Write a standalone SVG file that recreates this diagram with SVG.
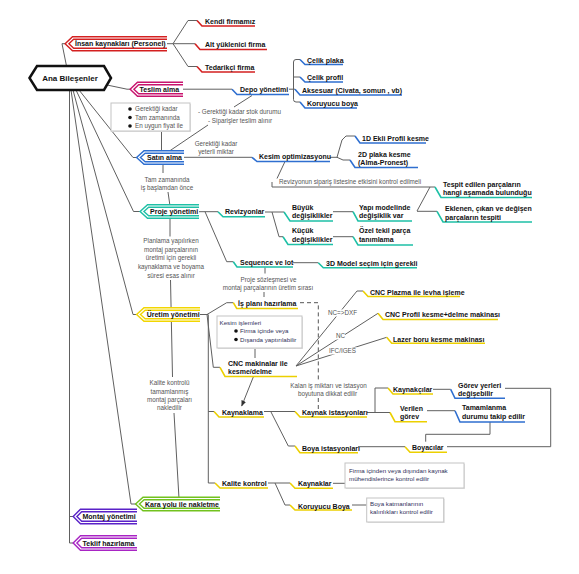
<svg xmlns="http://www.w3.org/2000/svg" width="579" height="574" viewBox="0 0 579 574">
<style>
.n{font-family:"Liberation Sans",Arial,sans-serif;font-weight:bold;font-size:7px;fill:#111}
.r{font-family:"Liberation Sans",Arial,sans-serif;font-weight:bold;font-size:8px;fill:#111}
.s{font-family:"Liberation Sans",Arial,sans-serif;font-size:6.3px;fill:#555}
.b{font-family:"Liberation Sans",Arial,sans-serif;font-size:6.2px;fill:#30305a}
.m{text-anchor:middle}
.c{fill:none;stroke:#606060;stroke-width:1}
.d{fill:none;stroke:#555;stroke-width:1;stroke-dasharray:4 3}
.u{fill:none;stroke-width:1.6}
.sh{fill:#fff;stroke-width:4}
.in{fill:none;stroke:#fff;stroke-width:1.2}
.box{fill:#fff;stroke:#c4c4c4;stroke-width:1}
.bs{fill:#e2e2e2}
.w{fill:#fff}
.red{stroke:#d42020}.blue{stroke:#2f6fd0}.teal{stroke:#1ec0a6}.yel{stroke:#ecd000}
</style>
<defs>
<marker id="ar" viewBox="0 0 10 10" refX="9" refY="5" markerWidth="6" markerHeight="6" orient="auto"><path d="M0,1 L10,5 L0,9 z" fill="#333"/></marker>
</defs>
<rect width="579" height="574" fill="#fff"/>

<g id="connectors">
<polyline class="c" points="66.5,66 62,43.7 67,43.7"/>
<polyline class="c" points="107,85 127,89.2 132,89.2"/>
<polyline class="c" points="69.5,90 69.5,543 75,543"/>
<polyline class="c" points="69.5,516.5 75,516.5"/>
<polyline class="c" points="79,90 133,157.5 138.5,157.5"/>
<polyline class="c" points="76,90 133.5,211.5 142,211.5"/>
<polyline class="c" points="73,90 133,314.5 138.5,314.5"/>
<polyline class="c" points="71,90 131,504 137.5,504"/>
<polyline class="c" points="167,43.7 173,43.7"/>
<polyline class="c" points="173,43.7 188,20.5 197,20.5"/>
<polyline class="c" points="173,43.7 195,43.7"/>
<polyline class="c" points="173,43.7 188,66.5 197,66.5"/>
<polyline class="c" points="183,89.2 232,89.2"/>
<polyline class="c" points="289,89.2 295,89.2"/>
<path class="c" d="M300,59.5 H296 Q293.5,59.5 293.5,62 V99.5 Q293.5,102 296,102 H300 M293.5,77 H300"/>
<polyline class="c" points="252,95.5 234,107"/>
<polyline class="c" points="208,125 168,152"/>
<polyline class="c" points="161.5,130.7 161.5,152"/>
<polyline class="c" points="184,157.3 252,157.3"/>
<polyline class="c" points="330,157.3 337,157.3"/>
<polyline class="c" points="337,157.3 342,140 346,136 355,136"/>
<polyline class="c" points="337,157.3 343,160 350,160"/>
<polyline class="c" points="285,161.5 277,178.5"/>
<polyline class="c" points="272,182 272,187 435,187"/>
<polyline class="c" points="430,187 417,211"/>
<polyline class="c" points="417,211.3 437,211.3"/>
<polyline class="c" points="163,163 163,173"/>
<polyline class="c" points="168,192 170,206"/>
<polyline class="c" points="170,217 170,236.5"/>
<polyline class="c" points="170.5,280 172.5,377"/>
<polyline class="c" points="174,413 179,498.5"/>
<polyline class="c" points="199,211.7 218,211.7"/>
<polyline class="c" points="205,211.7 226.7,261.7 233.3,261.7"/>
<polyline class="c" points="265,212 284,212"/>
<polyline class="c" points="272,212 279,236.7 283,236.7"/>
<polyline class="c" points="333,211.7 353,211.7"/>
<polyline class="c" points="333,236.7 353,236.7"/>
<polyline class="c" points="293,262.7 318.3,262.7"/>
<polyline class="c" points="265,267.5 265,273.5"/>
<polyline class="c" points="264,292 264,297"/>
<polyline class="c" points="200,314.5 208,314.5"/>
<polyline class="c" points="207,314.5 226.7,302.7 233.3,302.7"/>
<polyline class="c" points="207,314.5 213.3,367.3 220,367.3"/>
<polyline class="c" points="208.3,314.5 208.3,483 215,483"/>
<polyline class="c" points="208.3,411.5 214,411.5"/>
<polyline class="c" points="255,348.3 255,358"/>
<line class="c" x1="253.3" y1="377" x2="241.7" y2="406" marker-end="url(#ar)"/>
<polyline class="c" points="296,366 357,291 363,291"/>
<polyline class="c" points="296,366 378,313.3"/>
<polyline class="c" points="296,366 386.7,337.3"/>
<polyline class="d" points="300,302.7 318.3,302.7 318.3,380"/>
<polyline class="d" points="318.3,398 318.3,409"/>
<polyline class="c" points="264,411.5 295,411.5"/>
<polyline class="c" points="271,412 288.3,446 295,446"/>
<polyline class="c" points="367,412.5 390,412.5"/>
<polyline class="c" points="375,412.5 375,388 388,388"/>
<polyline class="c" points="433,389.3 450.7,389.3"/>
<polyline class="c" points="427,410.7 455,410.7"/>
<polyline class="c" points="505,388.3 550.7,388.3 550.7,446.7 447,446.7"/>
<polyline class="c" points="490,422 490,434.3 425.7,434.3 425.7,441.7"/>
<polyline class="c" points="358,446.7 405,446.7"/>
<polyline class="c" points="268,483 290,483"/>
<polyline class="c" points="275,483 285,505 290,505"/>
<polyline class="c" points="333,483.3 345,483.3"/>
<polyline class="c" points="352,505 366.7,505"/>
</g>

<g id="root">
<polygon points="29.5,78 37,66 104,66 111,78 104,90 37,90" fill="#fff" stroke="#111" stroke-width="2.5"/>
<text class="r m" x="70" y="81.3">Ana Bileşenler</text>
</g>

<g id="insan">
<path class="sh" stroke="#d42020" d="M167,38 H73 L67,43.7 L73,49.5 H167"/>
<path class="in" d="M167,38 H73 L67,43.7 L73,49.5 H167"/>
<text class="n" x="75" y="46.4">İnsan kaynakları (Personel)</text>
</g>
<g id="teslim">
<path class="sh" stroke="#c8146e" d="M183,83.5 H138 L132,89.2 L138,95 H183"/>
<path class="in" d="M183,83.5 H138 L132,89.2 L138,95 H183"/>
<text class="n" x="139.5" y="91.9">Teslim alma</text>
</g>
<g id="satin">
<path class="sh" stroke="#2f6fd0" d="M184,152 H144.5 L138.5,157.5 L144.5,163 H184"/>
<path class="in" d="M184,152 H144.5 L138.5,157.5 L144.5,163 H184"/>
<text class="n" x="147" y="160.2">Satın alma</text>
</g>
<g id="proje">
<path class="sh" stroke="#1ec0a6" d="M199,206 H148 L142,211.5 L148,217 H199"/>
<path class="in" d="M199,206 H148 L142,211.5 L148,217 H199"/>
<text class="n" x="150" y="214.2">Proje yönetimi</text>
</g>
<g id="uretim">
<path class="sh" stroke="#f2d600" d="M200,309 H144.5 L138.5,314.5 L144.5,320 H200"/>
<path class="in" d="M200,309 H144.5 L138.5,314.5 L144.5,320 H200"/>
<text class="n" x="146.7" y="317.2">Üretim yönetimi</text>
</g>
<g id="karayolu">
<path class="sh" stroke="#72c21e" d="M220,498.5 H143.5 L137.5,504 L143.5,509.5 H220"/>
<path class="in" d="M220,498.5 H143.5 L137.5,504 L143.5,509.5 H220"/>
<text class="n" x="145" y="506.7">Kara yolu ile nakletme</text>
</g>
<g id="montaj">
<path class="sh" stroke="#5a22c8" d="M137,510.5 H81 L75,516.5 L81,522.5 H137"/>
<path class="in" d="M137,510.5 H81 L75,516.5 L81,522.5 H137"/>
<text class="n" x="82.5" y="519.2">Montaj yönetimi</text>
</g>
<g id="teklif">
<path class="sh" stroke="#a824c4" d="M137,537 H81 L75,543 L81,549 H137"/>
<path class="in" d="M137,537 H81 L75,543 L81,549 H137"/>
<text class="n" x="82.5" y="545.7">Teklif hazırlama</text>
</g>

<g id="kendi"><polyline class="u red" points="197,20.5 202,26 255,26"/><text class="n" x="205" y="24">Kendi firmamız</text></g>
<g id="alt"><polyline class="u red" points="195,43.7 200,49.5 267,49.5"/><text class="n" x="205" y="47.3">Alt yüklenici firma</text></g>
<g id="tedarikci"><polyline class="u red" points="197,66.5 202,72 255,72"/><text class="n" x="205" y="70">Tedarikçi firma</text></g>

<g id="depo"><polyline class="u blue" points="232,89.2 237,94.5 289,94.5"/><text class="n" x="240" y="92.4">Depo yönetimi</text></g>
<g id="celikplaka"><polyline class="u blue" points="300,59.5 305,64.5 343,64.5"/><text class="n" x="307" y="62.5">Çelik plaka</text></g>
<g id="celikprofil"><polyline class="u blue" points="300,77 305,82 343,82"/><text class="n" x="307" y="80">Çelik profil</text></g>
<g id="aksesuar"><polyline class="u blue" points="295,89.2 300,95 402,95"/><text class="n" x="302" y="92.6">Aksesuar (Civata, somun , vb)</text></g>
<g id="koruyucuboya"><polyline class="u blue" points="300,102 305,108 357,108"/><text class="n" x="307" y="106">Koruyucu boya</text></g>

<g id="depo-notes">
<text class="s" x="198" y="114">- Gerektiği kadar stok durumu</text>
<text class="s" x="208" y="123">- Siparişler teslim alınır</text>
</g>
<g id="bullet-box">
<rect class="bs" x="112" y="104" width="79" height="28"/>
<rect class="box" x="111" y="103" width="79" height="28"/>
<circle cx="130" cy="109" r="1.8" fill="#111"/>
<circle cx="130" cy="117.5" r="1.8" fill="#111"/>
<circle cx="130" cy="126" r="1.8" fill="#111"/>
<text class="s" x="135" y="111">Gerektiği kadar</text>
<text class="s" x="135" y="119.5">Tam zamanında</text>
<text class="s" x="135" y="128">En uygun fiyat ile</text>
</g>
<g id="satin-note">
<text class="s m" x="216" y="145.5">Gerektiği kadar</text>
<text class="s m" x="216" y="154">yeterli miktar</text>
</g>
<g id="kesim"><polyline class="u blue" points="252,157.3 257,161.5 330,161.5"/><text class="n" x="259" y="159.3">Kesim optimizasyonu</text></g>
<g id="ekli1d"><polyline class="u blue" points="355,136 360,143 426,143"/><text class="n" x="362" y="141">1D Ekli Profil kesme</text></g>
<g id="plaka2d"><polyline class="u blue" points="350,160 355,167.5 418,167.5"/><text class="n" x="358" y="156.5">2D plaka kesme</text><text class="n" x="358" y="165">(Alma-Pronest)</text></g>
<g id="revizyon-note"><text class="s" x="279" y="184">Revizyonun sipariş listesine etkisini kontrol edilmeli</text></g>
<g id="tespit"><polyline class="u teal" points="435,187 441,197.5 532,197.5"/><text class="n" x="443" y="186.5">Tespit edilen parçaların</text><text class="n" x="443" y="195">hangi aşamada bulunduğu</text></g>
<g id="eklenen"><polyline class="u teal" points="437,211.3 443,222 532,222"/><text class="n" x="445" y="211">Eklenen, çıkan ve değişen</text><text class="n" x="445" y="219.5">parçaların tespiti</text></g>

<g id="tam-note">
<text class="s m" x="167" y="181.5">Tam zamanında</text>
<text class="s m" x="167" y="190">iş başlamdan önce</text>
</g>
<g id="revizyonlar"><polyline class="u teal" points="218,211.7 223,216.7 265,216.7"/><text class="n" x="225" y="214.3">Revizyonlar</text></g>
<g id="buyuk"><polyline class="u teal" points="284,212 290,221 333,221"/><text class="n" x="292" y="209.5">Büyük</text><text class="n" x="292" y="218">değişiklikler</text></g>
<g id="kucuk"><polyline class="u teal" points="283,236.7 288,244.5 333,244.5"/><text class="n" x="292" y="233">Küçük</text><text class="n" x="292" y="241.5">değişiklikler</text></g>
<g id="yapi"><polyline class="u teal" points="353,211.7 358,221 412,221"/><text class="n" x="359" y="209.5">Yapı modelinde</text><text class="n" x="359" y="218">değişiklik var</text></g>
<g id="ozel"><polyline class="u teal" points="353,236.7 358,245 413,245"/><text class="n" x="359" y="233">Özel tekil parça</text><text class="n" x="359" y="241.5">tanımlama</text></g>
<g id="sequence"><polyline class="u teal" points="233.3,261.7 237,267 293,267"/><text class="n" x="240" y="265">Sequence ve lot</text></g>
<g id="model3d"><polyline class="u teal" points="318.3,262.7 323.3,267.7 417,267.7"/><text class="n" x="326" y="265.5">3D Model seçim için gerekli</text></g>
<g id="planlama-note">
<text class="s m" x="171" y="243">Planlama yapılırken</text>
<text class="s m" x="171" y="251.5">montaj parçalarının</text>
<text class="s m" x="171" y="260">üretimi için gerekli</text>
<text class="s m" x="171" y="269">kaynaklama ve boyama</text>
<text class="s m" x="171" y="277.5">süresi esas alınır</text>
</g>
<g id="proje-note">
<text class="s m" x="268.5" y="281.5">Proje sözleşmesi ve</text>
<text class="s m" x="268" y="290">montaj parçalarının üretim sırası</text>
</g>

<g id="isplani"><polyline class="u yel" points="233.3,302.7 236.7,308.5 298,308.5"/><text class="n" x="238" y="306">İş planı hazırlama</text></g>
<g id="kesim-box">
<rect class="bs" x="218" y="317" width="85" height="32"/>
<rect class="box" x="217" y="316" width="85" height="32"/>
<text class="b" x="219.5" y="324.5">Kesim işlemleri</text>
<circle cx="236" cy="331" r="1.8" fill="#111"/>
<circle cx="236" cy="339.5" r="1.8" fill="#111"/>
<text class="b" x="240" y="333">Firma içinde veya</text>
<text class="b" x="240" y="341.7">Dışanda yaptırılabilir</text>
</g>
<g id="cnc"><polyline class="u yel" points="220,367.3 225,376.5 297,376.5"/><text class="n" x="228" y="365.5">CNC makinalar ile</text><text class="n" x="228" y="374">kesme/delme</text></g>
<g id="cnc-labels">
<rect class="w" x="327" y="309.5" width="30" height="7"/>
<rect class="w" x="335" y="332.5" width="10" height="7"/>
<rect class="w" x="328" y="347.5" width="29" height="7"/>
<text class="s" x="328" y="315">NC=&gt;DXF</text>
<text class="s" x="336" y="338">NC</text>
<text class="s" x="329" y="353">IFC/IGES</text>
</g>
<g id="cncplazma"><polyline class="u yel" points="363,291 368,296.5 460,296.5"/><text class="n" x="370" y="294.5">CNC Plazma ile levha işleme</text></g>
<g id="cncprofil"><polyline class="u yel" points="378,313.3 383,319.5 498,319.5"/><text class="n" x="385" y="317.3">CNC Profil kesme+delme makinası</text></g>
<g id="lazer"><polyline class="u yel" points="386.7,337.3 391.7,343.3 485,343.3"/><text class="n" x="393" y="341.5">Lazer boru kesme makinası</text></g>
<g id="kalan-note">
<text class="s m" x="328.5" y="387.5">Kalan iş miktarı ve istasyon</text>
<text class="s m" x="327.5" y="396">boyutuna dikkat edilir</text>
</g>
<g id="kaynaklama"><polyline class="u yel" points="214,411.5 219,417 264,417"/><text class="n" x="222" y="414.5">Kaynaklama</text></g>
<g id="kaynakist"><polyline class="u yel" points="295,411.5 300,417 367,417"/><text class="n" x="302" y="414.5">Kaynak istasyonları</text></g>
<g id="kaynakcilar"><polyline class="u yel" points="388,388 393,394 433,394"/><text class="n" x="393" y="391.5">Kaynakçılar</text></g>
<g id="verilen"><polyline class="u yel" points="390,412.5 395,421.7 427,421.7"/><text class="n" x="400" y="410.5">Verilen</text><text class="n" x="400" y="419">görev</text></g>
<g id="gorevyerleri"><polyline class="u blue" points="450.7,389.3 455,398.3 505,398.3"/><text class="n" x="458" y="387.5">Görev yerleri</text><text class="n" x="458" y="396">değişebilir</text></g>
<g id="tamamlanma"><polyline class="u blue" points="455,410.7 460,422 525,422"/><text class="n" x="462" y="410">Tamamlanma</text><text class="n" x="462" y="419">durumu takip edilir</text></g>
<g id="boyaist"><polyline class="u yel" points="295,446 300,452.7 358,452.7"/><text class="n" x="302" y="450.5">Boya istasyonları</text></g>
<g id="boyacilar"><polyline class="u yel" points="405,446.7 410,452.3 447,452.3"/><text class="n" x="412" y="450">Boyacılar</text></g>
<g id="kalite-note">
<text class="s m" x="169.5" y="385">Kalite kontrolü</text>
<text class="s m" x="169.5" y="393.5">tamamlanmış</text>
<text class="s m" x="169.5" y="402">montaj parçaları</text>
<text class="s m" x="169.5" y="410">nakledilir</text>
</g>
<g id="kalite"><polyline class="u yel" points="215,483 220,488 268,488"/><text class="n" x="222" y="486">Kalite kontrol</text></g>
<g id="kaynaklar"><polyline class="u yel" points="290,483 295,488.3 333,488.3"/><text class="n" x="298" y="486">Kaynaklar</text></g>
<g id="koruyucuboya2"><polyline class="u yel" points="290,505 295,510 352,510"/><text class="n" x="298" y="508.5">Koruyucu Boya</text></g>
<g id="firma-box">
<rect class="bs" x="346" y="464" width="119" height="25"/>
<rect class="box" x="345" y="463" width="119" height="25"/>
<text class="b" x="349" y="472.5">Firma içinden veya dışından kaynak</text>
<text class="b" x="349" y="481">mühendislerince kontrol edilir</text>
</g>
<g id="boya-box">
<rect class="bs" x="367.7" y="499" width="77" height="24"/>
<rect class="box" x="366.7" y="498" width="77" height="24"/>
<text class="b" x="370" y="506">Boya katmanlarının</text>
<text class="b" x="370" y="514.3">kalınlıkları kontrol edilir</text>
</g>
</svg>
